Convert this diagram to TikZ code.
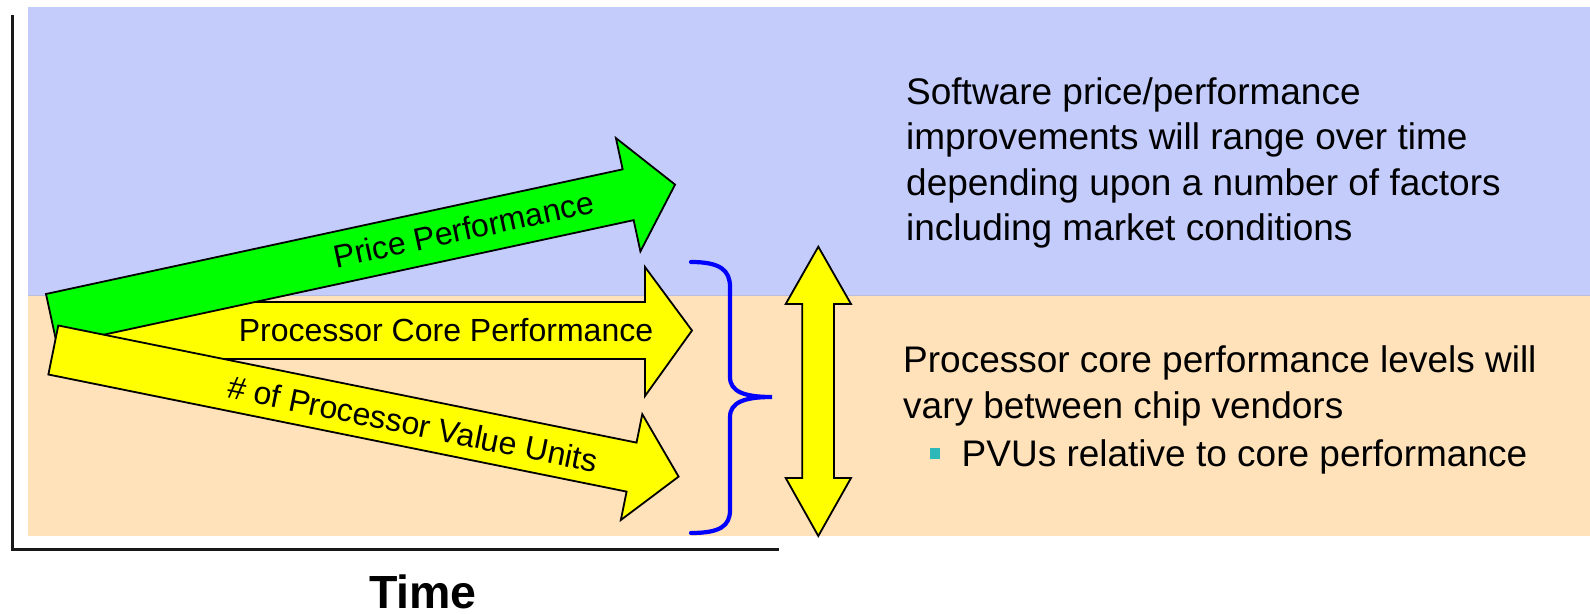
\documentclass[tikz,border=0pt]{standalone}
\usepackage{fontspec}
\setmainfont{Liberation Sans}
\definecolor{bgblue}{RGB}{196,204,252}
\definecolor{bgpeach}{RGB}{255,225,186}
\definecolor{edgeline}{RGB}{186,188,222}
\definecolor{arrowgreen}{RGB}{0,255,0}
\definecolor{arrowyellow}{RGB}{255,255,0}
\definecolor{bracecol}{RGB}{0,0,255}
\definecolor{bulletcol}{RGB}{46,184,184}
\tikzset{
  fatarrow/.style={draw=black, line width=1.8pt, line join=miter},
  axisline/.style={draw=black!90, line width=3.5pt},
  bodytext/.style={anchor=base west, inner sep=0pt, font=\fontsize{37}{45}\selectfont},
  arrowtext/.style={inner sep=0pt, font=\fontsize{32}{38}\selectfont},
}
\begin{document}
\begin{tikzpicture}[x=1pt, y=-1pt]
\useasboundingbox (0,0) rectangle (1590,613);

% background bands
\fill[bgblue] (28,7) rectangle (1590,295);
\fill[bgpeach] (28,295) rectangle (1590,536);
\draw[edgeline, line width=0.8pt] (28,295) -- (1590,295);

% axes
\draw[axisline] (12.5,15) -- (12.5,549.5) -- (779,549.5);
\node[inner sep=0pt, anchor=base, font=\fontsize{46.5}{50}\selectfont\bfseries] (time) at (423,608) {Time};

% horizontal arrow: processor core performance
\path[fatarrow, fill=arrowyellow] (60,302) -- (645,302) -- (645,267) -- (692,330.5)
  -- (645,396) -- (645,359) -- (60,359) -- cycle;
\node[arrowtext] (core) at (446,330) {Processor Core Performance};

% rising arrow: price performance
\begin{scope}[shift={(46,294)}, rotate=12.2]
  \path[fatarrow, fill=arrowgreen] (0,0) -- (590,0) -- (590,-32) -- (638,26)
    -- (590,84) -- (590,52) -- (0,52) -- cycle;
  \node[arrowtext, rotate=12.2] (price) at (422,25) {Price Performance};
\end{scope}

% falling arrow: processor value units
\begin{scope}[shift={(58.3,325.5)}, rotate=-11.45]
  \path[fatarrow, fill=arrowyellow] (0,0) -- (590,0) -- (590,-29) -- (638,25)
    -- (590,79) -- (590,50) -- (0,50) -- cycle;
  \node[arrowtext, rotate=-11.45] (pvu) at (367,26) {\# of Processor Value Units};
\end{scope}

% brace
\coordinate (bracetop) at (691,262);
\coordinate (bracetip) at (772,397);
\coordinate (bracebot) at (691,533);
\draw[bracecol, line width=4.2pt, line cap=round]
  (bracetop) .. controls (720,262) and (730,270) .. (730,287)
  -- (730,377) .. controls (730,392) and (745,397) .. (bracetip)
  .. controls (745,397) and (730,402) .. (730,417)
  -- (730,510) .. controls (730,526) and (720,533) .. (bracebot);

% double-headed vertical arrow
\path[fatarrow, fill=arrowyellow] (818.3,246.7) -- (851,304) -- (834,304) -- (834,478)
  -- (851,478) -- (818.3,536) -- (785.7,478) -- (802.3,478) -- (802.3,304)
  -- (785.7,304) -- cycle;

% upper text block
\node[bodytext] (sw1) at (906,104) {Software price/performance};
\node[bodytext] (sw2) at (906,149.5) {improvements will range over time};
\node[bodytext] (sw3) at (906,195) {depending upon a number of factors};
\node[bodytext] (sw4) at (906,240.5) {including market conditions};

% lower text block
\node[bodytext] (pc1) at (903,372) {Processor core performance levels will};
\node[bodytext] (pc2) at (903,418) {vary between chip vendors};
\fill[bulletcol] (929.5,447.5) rectangle (940,458.5);
\node[bodytext] (pc3) at (961.5,466.5) {PVUs relative to core performance};
\end{tikzpicture}
\end{document}
